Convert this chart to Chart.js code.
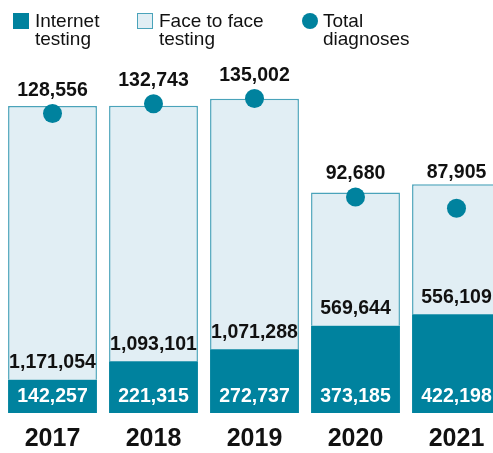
<!DOCTYPE html>
<html>
<head>
<meta charset="utf-8">
<script src="https://cdn.jsdelivr.net/npm/chart.js@4.4.1/dist/chart.umd.min.js"></script>
<style>
  html, body { margin: 0; padding: 0; background: #fff; overflow: hidden; }
  body { width: 493px; height: 453px; position: relative; font-family: "Liberation Sans", Arial, sans-serif; }
  #chart { position: absolute; left: 0; top: 0; }
  .legend { position: absolute; top: 0; left: 0; width: 493px; height: 60px; }
  .item { position: absolute; font-size: 19px; line-height: 18px; color: #111; }
  .sw { position: absolute; }
</style>
</head>
<body>
<canvas id="chart" width="507" height="453"></canvas>
<div class="legend">
  <div class="sw" style="left:13px;top:13px;width:16px;height:16px;background:#00829e;"></div>
  <div class="item" style="left:35px;top:12px;">Internet<br>testing</div>
  <div class="sw" style="left:137px;top:13px;width:14px;height:14px;background:#e1eef4;border:1.5px solid #4aa3ba;"></div>
  <div class="item" style="left:159px;top:12px;">Face to face<br>testing</div>
  <div class="sw" style="left:302px;top:13px;width:16px;height:16px;border-radius:50%;background:#00829e;"></div>
  <div class="item" style="left:323px;top:12px;">Total<br>diagnoses</div>
</div>
<script>
const years = ['2017', '2018', '2019', '2020', '2021'];
const internetTesting = [142257, 221315, 272737, 373185, 422198];
const faceToFace = [1171054, 1093101, 1071288, 569644, 556109];
const totalDiagnoses = [128556, 132743, 135002, 92680, 87905];

const teal = '#00829e';
const fmt = v => v.toLocaleString('en-US');

// value labels for the bars and dots
const labelPlugin = {
  id: 'valueLabels',
  afterDatasetsDraw(chart) {
    const ctx = chart.ctx;
    const inet = chart.getDatasetMeta(0).data;
    const face = chart.getDatasetMeta(1).data;
    const dots = chart.getDatasetMeta(2).data;
    ctx.save();
    ctx.font = 'bold 19.5px "Liberation Sans", Arial, sans-serif';
    ctx.textAlign = 'center';
    ctx.textBaseline = 'middle';
    years.forEach((y, i) => {
      const b = inet[i];
      ctx.fillStyle = '#fff';
      ctx.fillText(fmt(internetTesting[i]), b.x, b.base - 16);
      ctx.fillStyle = '#111';
      ctx.fillText(fmt(faceToFace[i]), b.x, b.y - 17);
      const d = dots[i];
      const ly = Math.min(d.y - 23, face[i].y - 12);
      ctx.fillText(fmt(totalDiagnoses[i]), d.x, ly);
    });
    ctx.restore();
  }
};

new Chart(document.getElementById('chart'), {
  data: {
    labels: years,
    datasets: [
      {
        type: 'bar',
        label: 'Internet testing',
        data: internetTesting,
        backgroundColor: teal,
        borderWidth: 0,
        stack: 's',
        order: 1
      },
      {
        type: 'bar',
        label: 'Face to face testing',
        data: faceToFace,
        backgroundColor: '#e1eef4',
        borderColor: '#4aa3ba',
        borderWidth: 1.5,
        borderSkipped: 'bottom',
        stack: 's',
        order: 1
      },
      {
        type: 'line',
        label: 'Total diagnoses',
        data: totalDiagnoses,
        yAxisID: 'y2',
        showLine: false,
        pointRadius: 9.5,
        pointHoverRadius: 9.5,
        pointBackgroundColor: teal,
        pointBorderWidth: 0,
        order: 0
      }
    ]
  },
  options: {
    responsive: false,
    animation: false,
    datasets: { bar: { barPercentage: 0.88, categoryPercentage: 1 } },
    layout: { autoPadding: false, padding: { top: 60, left: 2, right: 0, bottom: 0 } },
    plugins: {
      legend: { display: false },
      tooltip: { enabled: false }
    },
    scales: {
      x: {
        stacked: true,
        grid: { display: false },
        border: { display: false },
        ticks: {
          color: '#111',
          padding: 3,
          font: { family: '"Liberation Sans", Arial, sans-serif', size: 25, weight: 'bold' }
        },
        afterFit(scale) {
          scale.height = 40;
          scale.paddingLeft = 0;
          scale.paddingRight = 0;
        }
      },
      y: {
        stacked: true,
        display: false,
        min: 0,
        max: 1510000
      },
      y2: {
        display: false,
        min: 0,
        max: 151500
      }
    }
  },
  plugins: [labelPlugin]
});
</script>
</body>
</html>
